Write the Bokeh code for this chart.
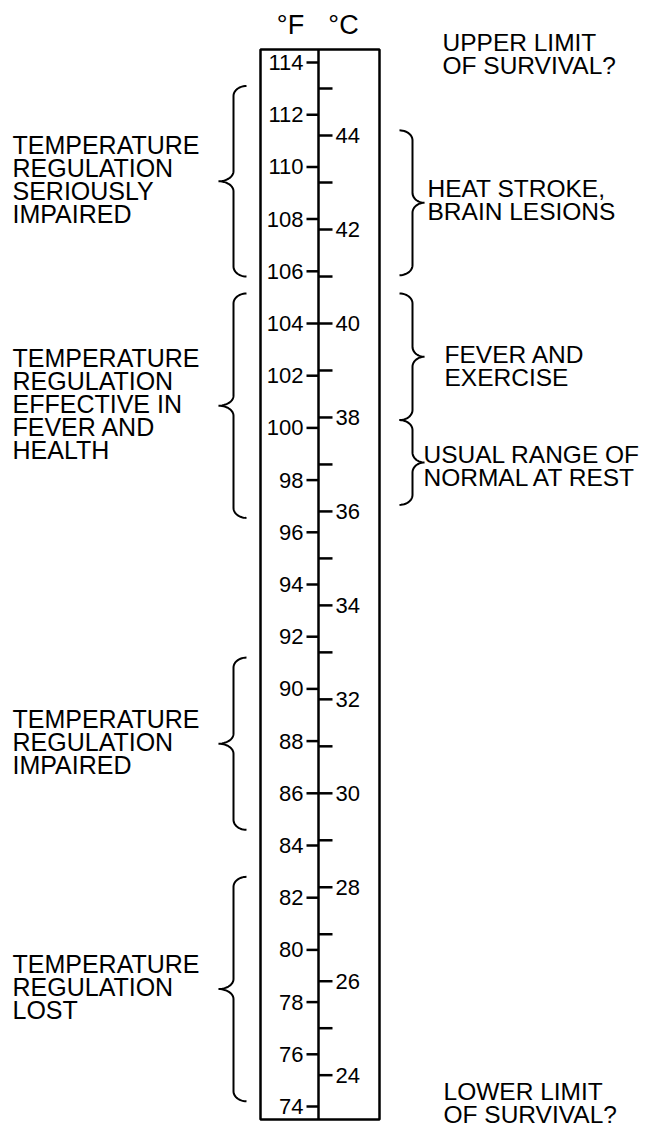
import numpy as np
from bokeh.plotting import figure
from bokeh.models import Range1d, ColumnDataSource
from bokeh.embed import file_html
from bokeh.resources import INLINE
from bokeh.core.properties import value

# ---------------- data ----------------
f_ticks = [114, 112, 110, 108, 106, 104, 102, 100, 98, 96, 94,
           92, 90, 88, 86, 84, 82, 80, 78, 76, 74]
f_tick_labels = ["114", "112", "110", "108", "106", "104", "102", "100", "98", "96", "94",
                 "92", "90", "88", "86", "84", "82", "80", "78", "76", "74"]
c_ticks = [45, 44, 43, 42, 41, 40, 39, 38, 37, 36, 35,
           34, 33, 32, 31, 30, 29, 28, 27, 26, 25, 24]
c_tick_labels = ["", "44", "", "42", "", "40", "", "38", "", "36", "",
                 "34", "", "32", "", "30", "", "28", "", "26", "", "24"]
scale_range_f = [73.5, 114.5]
unit_labels = ["°F", "°C"]

left_labels = [
    ["TEMPERATURE", "REGULATION", "SERIOUSLY", "IMPAIRED"],
    ["TEMPERATURE", "REGULATION", "EFFECTIVE IN", "FEVER AND", "HEALTH"],
    ["TEMPERATURE", "REGULATION", "IMPAIRED"],
    ["TEMPERATURE", "REGULATION", "LOST"],
]
left_from_f = [113.1, 105.15, 91.2, 82.8]
left_to_f = [105.8, 96.55, 84.6, 74.2]

right_labels = [
    ["HEAT STROKE,", "BRAIN LESIONS"],
    ["FEVER AND", "EXERCISE"],
    ["USUAL RANGE OF", "NORMAL AT REST"],
]
right_from_f = [111.4, 105.15, 100.3]
right_to_f = [105.85, 100.3, 97.05]

upper_limit_label = ["UPPER LIMIT", "OF SURVIVAL?"]
lower_limit_label = ["LOWER LIMIT", "OF SURVIVAL?"]

# ---------------- layout ----------------
W, H = 646, 1130
PX_PER_F = 26.1
Y_END = 114 + 62 / PX_PER_F
Y_START = Y_END - H / PX_PER_F

X_LEFT, X_MID, X_RIGHT = 260, 318, 379
F_TICK_LEN, C_TICK_LEN = 12, 14
FONT = value("Liberation Sans")
LINE_GAP = 23  # px between text lines


def page_to_f(py):
    return Y_END - py / PX_PER_F


def c_to_f(c):
    return c * 9.0 / 5.0 + 32.0


p = figure(width=W, height=H, x_range=Range1d(0, W), y_range=Range1d(Y_START, Y_END),
           output_backend="svg", toolbar_location=None, min_border=0,
           x_axis_location=None, y_axis_location=None)
p.grid.visible = False
p.outline_line_color = None
p.background_fill_color = "white"
p.border_fill_color = "white"

# column box and centre line
p.quad(left=[X_LEFT], right=[X_RIGHT], bottom=[scale_range_f[0]], top=[scale_range_f[1]],
       fill_color=None, line_color="black", line_width=2.5)
p.segment(x0=[X_MID], y0=[scale_range_f[0]], x1=[X_MID], y1=[scale_range_f[1]],
          line_color="black", line_width=2.5)

# Fahrenheit ticks (left side of centre line)
fsrc = ColumnDataSource(dict(y=f_ticks, lab=f_tick_labels))
p.segment(x0=X_MID - F_TICK_LEN, y0="y", x1=X_MID, y1="y", source=fsrc,
          line_color="black", line_width=2.5)
p.text(x=X_MID - F_TICK_LEN - 3, y="y", text="lab", source=fsrc, text_align="right",
       text_baseline="middle", text_font=FONT, text_font_size="22px", text_color="black")

# Celsius ticks (right side)
cy = [c_to_f(c) for c in c_ticks]
csrc = ColumnDataSource(dict(y=cy, lab=c_tick_labels))
p.segment(x0=X_MID, y0="y", x1=X_MID + C_TICK_LEN, y1="y", source=csrc,
          line_color="black", line_width=2.5)
p.text(x=X_MID + C_TICK_LEN + 3, y="y", text="lab", source=csrc, text_align="left",
       text_baseline="middle", text_font=FONT, text_font_size="22px", text_color="black")

# unit headers
p.text(x=[290, 343], y=[page_to_f(24)] * 2, text=unit_labels, text_align="center",
       text_baseline="middle", text_font=FONT, text_font_size="27px", text_color="black")


def brace(xv, f_a, f_b, s, rxh, rxt, ryp):
    ry = ryp / PX_PER_F
    fm = (f_a + f_b) / 2.0
    t = np.linspace(0, np.pi / 2, 14)
    t2 = t[::-1]
    xs, ys = [], []
    xs += list(xv - s * rxh * (1 - np.sin(t))); ys += list(f_a - ry * (1 - np.cos(t)))
    xs += list(xv + s * rxt * (1 - np.cos(t))); ys += list(fm + ry * (1 - np.sin(t)))
    xs += list(xv + s * rxt * (1 - np.cos(t2))); ys += list(fm - ry * (1 - np.sin(t2)))
    xs += list(xv - s * rxh * (1 - np.cos(t))); ys += list(f_b + ry * (1 - np.sin(t)))
    return xs, ys


bx, by = [], []
for a, b in zip(left_from_f, left_to_f):
    xs, ys = brace(233, a, b, -1, 13, 15, 10)
    bx.append(xs); by.append(ys)
for a, b in zip(right_from_f, right_to_f):
    xs, ys = brace(412, a, b, 1, 13, 12, 10)
    bx.append(xs); by.append(ys)
p.multi_line(xs=bx, ys=by, line_color="black", line_width=2)


def block(lines, x, fmid, dy=0):
    n = len(lines)
    xs, ys, txt, off = [], [], [], []
    for i, ln in enumerate(lines):
        xs.append(x); ys.append(fmid); txt.append(ln)
        off.append((i - (n - 1) / 2.0) * LINE_GAP + dy)
    return xs, ys, txt, off


# left-hand descriptions
lx, ly, lt, lo = [], [], [], []
for lines, a, b in zip(left_labels, left_from_f, left_to_f):
    r = block(lines, 12, (a + b) / 2.0, -2)
    lx += r[0]; ly += r[1]; lt += r[2]; lo += r[3]
lsrc = ColumnDataSource(dict(x=lx, y=ly, t=lt, o=lo))
p.text(x="x", y="y", text="t", y_offset="o", source=lsrc, text_align="left",
       text_baseline="middle", text_font=FONT, text_font_size="25px", text_color="black")

# right-hand descriptions
tx, ty, tt, to = [], [], [], []
right_x = [427, 444, 423]
right_dy = [-3, 9, 4]
for lines, a, b, xx, d in zip(right_labels, right_from_f, right_to_f, right_x, right_dy):
    r = block(lines, xx, (a + b) / 2.0, d)
    tx += r[0]; ty += r[1]; tt += r[2]; to += r[3]
r = block(upper_limit_label, 442, scale_range_f[1], 5)
tx += r[0]; ty += r[1]; tt += r[2]; to += r[3]
r = block(lower_limit_label, 443, scale_range_f[0], -17)
tx += r[0]; ty += r[1]; tt += r[2]; to += r[3]

tsrc = ColumnDataSource(dict(x=tx, y=ty, t=tt, o=to))
p.text(x="x", y="y", text="t", y_offset="o", source=tsrc, text_align="left",
       text_baseline="middle", text_font=FONT, text_font_size="24.5px", text_color="black")

open("out.html", "w").write(file_html(p, INLINE))
